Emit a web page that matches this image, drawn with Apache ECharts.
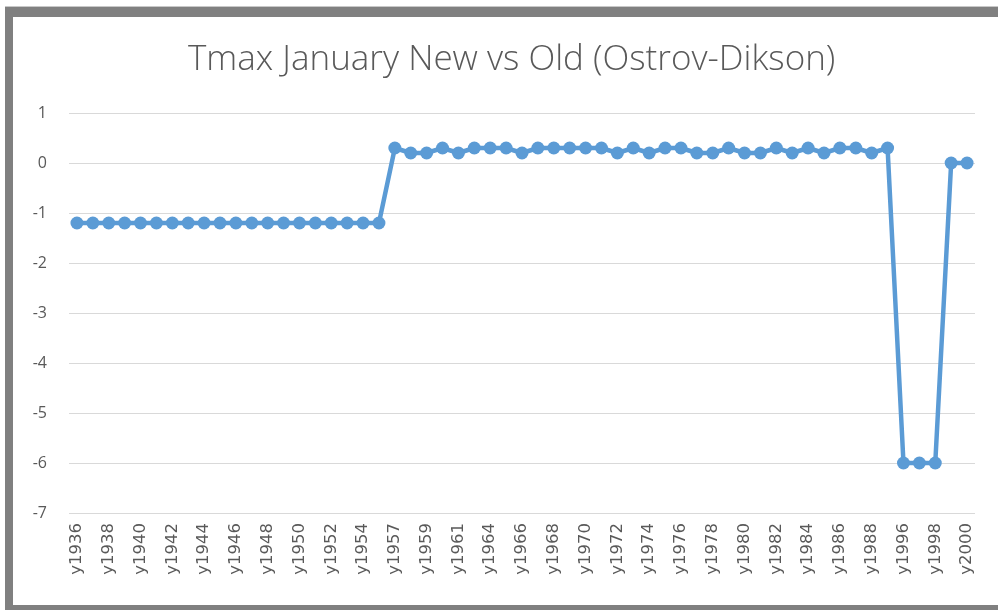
<!DOCTYPE html>
<html>
<head>
<meta charset="utf-8">
<script src="https://cdn.jsdelivr.net/npm/echarts@6/dist/echarts.min.js"></script>
<style>
html,body{margin:0;padding:0;background:#fff;}
#wrap{position:absolute;left:0;top:0;width:998px;height:610px;background:#fff;}
#frameTop{position:absolute;left:5px;top:6px;width:993px;height:1px;background:#c8c8c8;}
#frame{position:absolute;left:5px;top:7px;width:993px;height:603px;box-sizing:border-box;border-left:8px solid #808080;border-top:10px solid #808080;border-bottom:5px solid #808080;}
#chart{position:absolute;left:0;top:0;width:998px;height:610px;}
</style>
</head>
<body>
<div id="wrap">
<div id="frameTop"></div>
<div id="frame"></div>
<div id="chart"></div>
</div>
<script>
const titleText = 'Tmax January New vs Old (Ostrov-Dikson)';
const years = [
  'y1936','y1937','y1938','y1939','y1940','y1941','y1942','y1943','y1944','y1945',
  'y1946','y1947','y1948','y1949','y1950','y1951','y1952','y1953','y1954','y1955',
  'y1957','y1958','y1959','y1960','y1961','y1962','y1964','y1965','y1966','y1967',
  'y1968','y1969','y1970','y1971','y1972','y1973','y1974','y1975','y1976','y1977',
  'y1978','y1979','y1980','y1981','y1982','y1983','y1984','y1985','y1986','y1987',
  'y1988','y1989','y1996','y1997','y1998','y1999','y2000'
];
const tmaxDiff = [
  -1.2,-1.2,-1.2,-1.2,-1.2,-1.2,-1.2,-1.2,-1.2,-1.2,
  -1.2,-1.2,-1.2,-1.2,-1.2,-1.2,-1.2,-1.2,-1.2,-1.2,
  0.3,0.2,0.2,0.3,0.2,0.3,0.3,0.3,0.2,0.3,
  0.3,0.3,0.3,0.3,0.2,0.3,0.2,0.3,0.3,0.2,
  0.2,0.3,0.2,0.2,0.3,0.2,0.3,0.2,0.3,0.3,
  0.2,0.3,-6,-6,-6,0,0
];
const yTicks = {min: -7, max: 1, step: 1};

const chart = echarts.init(document.getElementById('chart'), null, {renderer: 'canvas'});
chart.setOption({
  animation: false,
  backgroundColor: 'transparent',
  title: {
    text: titleText,
    left: 183,
    top: 38,
    textStyle: {fontFamily: 'Open Sans', fontWeight: 300, fontSize: 35, color: '#595959'}
  },
  grid: {left: 69, right: 23, top: 113, bottom: 97, containLabel: false},
  xAxis: {
    type: 'category',
    data: years,
    boundaryGap: true,
    axisLine: {show: false},
    axisTick: {show: false},
    axisLabel: {
      interval: 1,
      rotate: 90,
      color: '#595959',
      fontFamily: 'DejaVu Sans',
      fontSize: 16.5,
      margin: 10
    },
    splitLine: {show: false}
  },
  yAxis: {
    type: 'value',
    min: yTicks.min,
    max: yTicks.max,
    interval: yTicks.step,
    axisLine: {show: false},
    axisTick: {show: false},
    axisLabel: {color: '#595959', fontFamily: 'Open Sans', fontSize: 16, margin: 22},
    splitLine: {lineStyle: {color: '#d9d9d9', width: 1}}
  },
  series: [{
    type: 'line',
    data: tmaxDiff,
    symbol: 'circle',
    symbolSize: 13,
    showAllSymbol: true,
    lineStyle: {color: '#5b9bd5', width: 4.5},
    itemStyle: {color: '#5b9bd5'}
  }]
});
</script>
</body>
</html>
